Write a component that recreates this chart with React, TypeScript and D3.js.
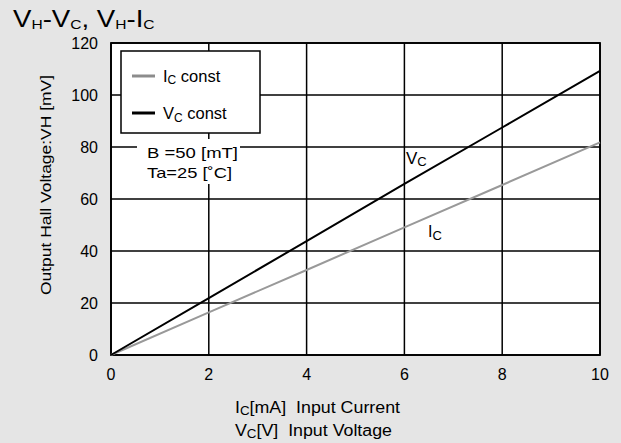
import * as d3 from "d3";

const xTicks = [0, 2, 4, 6, 8, 10];
const yTicks = [0, 20, 40, 60, 80, 100, 120];
const inputValues = [0, 2, 4, 6, 8, 10];
const vcConst = [0, 21.9, 43.8, 65.8, 87.5, 109.3];
const icConst = [0, 16.4, 32.7, 49.1, 65.4, 81.8];

const W = 621;
const H = 443;
const FONT = "'Liberation Sans', Arial, Helvetica, sans-serif";

const x = d3.scaleLinear().domain([0, 10]).range([111, 600]);
const y = d3.scaleLinear().domain([0, 120]).range([355, 43]);

const line = d3
  .line<number>()
  .x((_, i) => x(inputValues[i]))
  .y((d) => y(d));

export default function App() {
  return (
    <svg
      width={W}
      height={H}
      style={{ position: "absolute", left: 0, top: 0, display: "block" }}
      fontFamily={FONT}
    >
      <rect width={W} height={H} fill="#e5e5e5" />

      {/* title */}
      <g transform="translate(13,27) scale(1.2,1)">
        <text fontSize={23} fill="#000">
          V<tspan fontSize={13} dy={2}>H</tspan>
          <tspan dy={-2}>-V</tspan>
          <tspan fontSize={13} dy={2}>C</tspan>
          <tspan dy={-2}>, V</tspan>
          <tspan fontSize={13} dy={2}>H</tspan>
          <tspan dy={-2}>-I</tspan>
          <tspan fontSize={13} dy={2}>C</tspan>
        </text>
      </g>

      {/* plot area */}
      <rect x={x(0)} y={y(120)} width={x(10) - x(0)} height={y(0) - y(120)} fill="#fff" />
      {xTicks.map((t) => (
        <line key={"gx" + t} x1={x(t)} x2={x(t)} y1={y(0)} y2={y(120)} stroke="#000" strokeWidth={1.5} />
      ))}
      {yTicks.map((t) => (
        <line key={"gy" + t} x1={x(0)} x2={x(10)} y1={y(t)} y2={y(t)} stroke="#000" strokeWidth={1.5} />
      ))}
      <rect
        x={x(0)}
        y={y(120)}
        width={x(10) - x(0)}
        height={y(0) - y(120)}
        fill="none"
        stroke="#000"
        strokeWidth={1.8}
      />

      {/* tick labels */}
      {xTicks.map((t) => (
        <text key={"tx" + t} x={x(t)} y={380} fontSize={16} textAnchor="middle">
          {t}
        </text>
      ))}
      {yTicks.map((t) => (
        <text key={"ty" + t} x={98} y={y(t) + 5.5} fontSize={16} textAnchor="end">
          {t}
        </text>
      ))}

      {/* axis titles */}
      <text
        transform="translate(51,185) rotate(-90)"
        fontSize={15.4}
        textAnchor="middle"
        textLength={220}
        lengthAdjust="spacingAndGlyphs"
      >
        Output Hall Voltage:VH [mV]
      </text>
      <text x={235} y={413} fontSize={16} textLength={165} lengthAdjust="spacingAndGlyphs">
        I<tspan fontSize={12} dy={2}>C</tspan>
        <tspan dy={-2}>{"[mA]\u00a0\u00a0Input Current"}</tspan>
      </text>
      <text x={235} y={436} fontSize={16} textLength={157} lengthAdjust="spacingAndGlyphs">
        V<tspan fontSize={12} dy={2}>C</tspan>
        <tspan dy={-2}>{"[V]\u00a0\u00a0Input Voltage"}</tspan>
      </text>

      {/* conditions */}
      <rect x={137} y={139} width={103} height={45} fill="#fff" />
      <text x={147} y={158} fontSize={15} textLength={91} lengthAdjust="spacingAndGlyphs">
        B =50 [mT]
      </text>
      <text x={147} y={178} fontSize={15} textLength={85} lengthAdjust="spacingAndGlyphs">
        Ta=25 [˚C]
      </text>

      {/* data lines */}
      <path d={line(icConst) ?? ""} fill="none" stroke="#999" strokeWidth={2} />
      <path d={line(vcConst) ?? ""} fill="none" stroke="#000" strokeWidth={2} />

      {/* line labels */}
      <text x={406} y={163.5} fontSize={17}>
        V<tspan fontSize={13} dy={2.5}>C</tspan>
      </text>
      <text x={428} y={237} fontSize={16}>
        I<tspan fontSize={13} dy={2.5}>C</tspan>
      </text>

      {/* legend */}
      <rect x={121} y={51} width={139} height={82} fill="#fff" stroke="#000" strokeWidth={1.5} />
      <line x1={132} x2={155} y1={76} y2={76} stroke="#8c8c8c" strokeWidth={3} />
      <text x={163} y={81.5} fontSize={16.5}>
        I<tspan fontSize={12} dy={2.5}>C</tspan>
        <tspan dy={-2.5}> const</tspan>
      </text>
      <line x1={132} x2={155} y1={113} y2={113} stroke="#000" strokeWidth={3} />
      <text x={163} y={119} fontSize={16.5}>
        V<tspan fontSize={12} dy={2.5}>C</tspan>
        <tspan dy={-2.5}> const</tspan>
      </text>
    </svg>
  );
}
